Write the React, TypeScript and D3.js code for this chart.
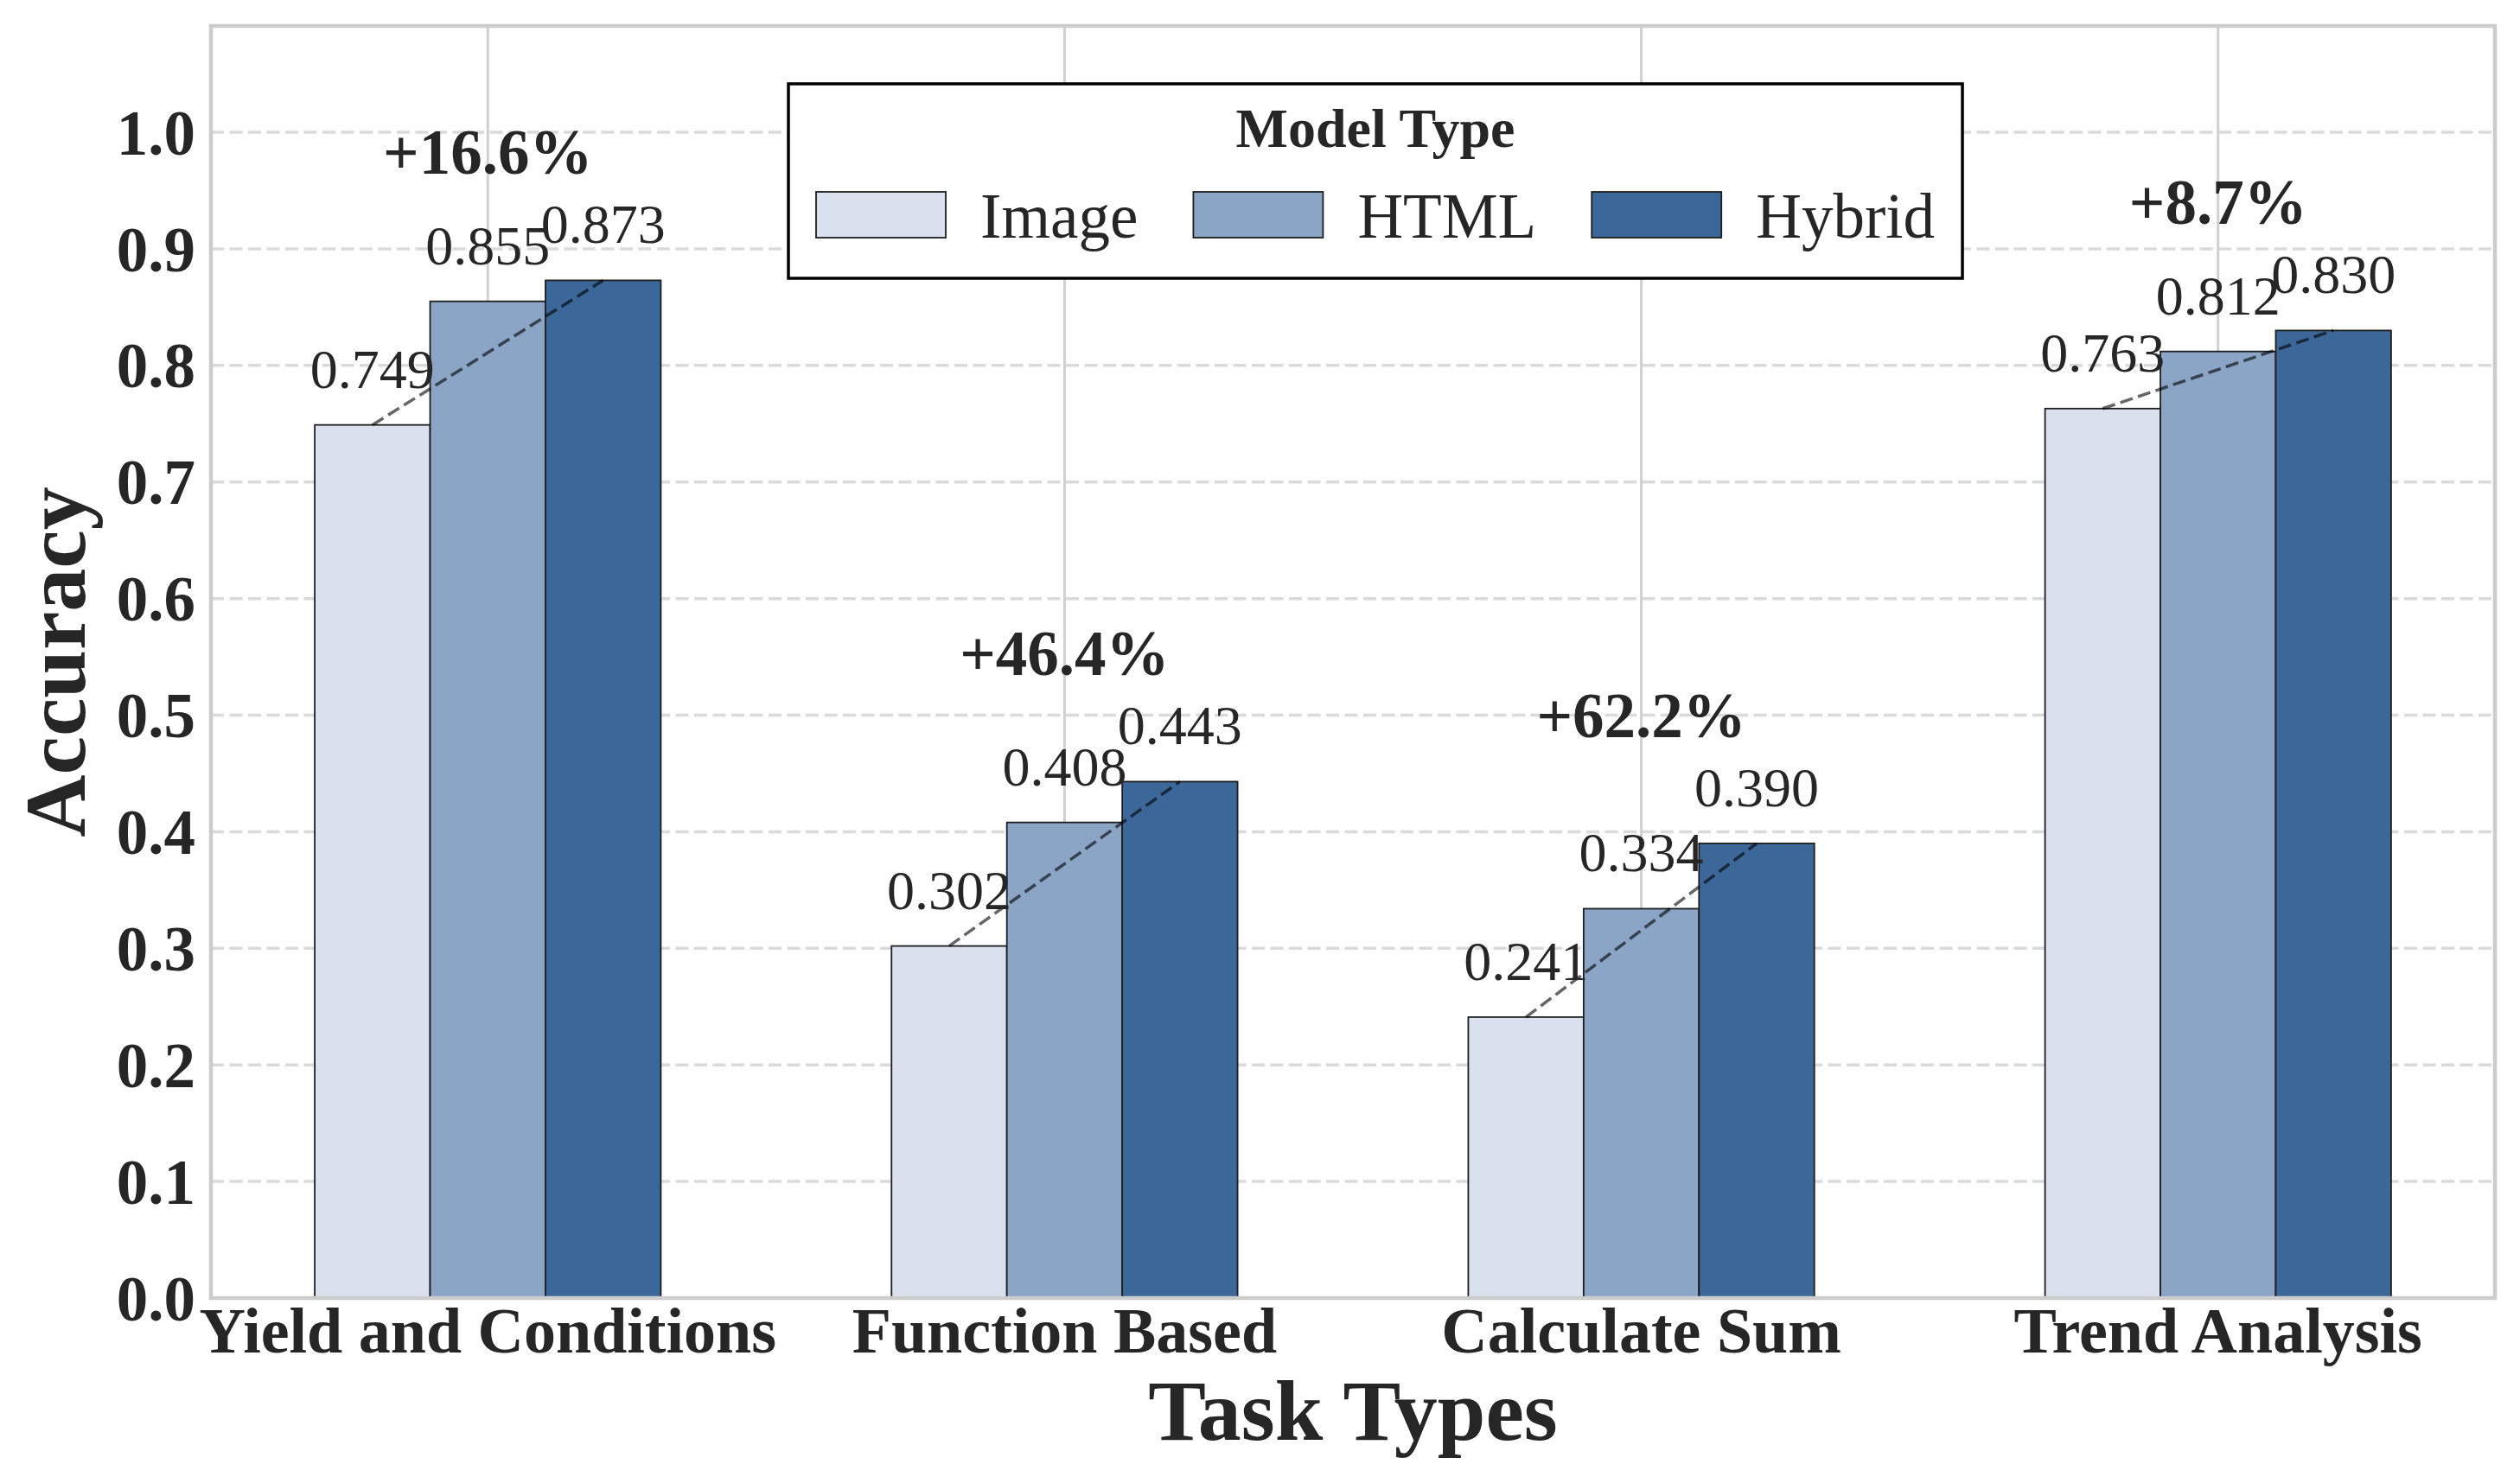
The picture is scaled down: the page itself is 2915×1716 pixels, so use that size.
import React, { useRef, useEffect } from 'react';
import * as d3 from 'd3';

const categories = ["Yield and Conditions", "Function Based", "Calculate Sum", "Trend Analysis"];
const modelTypes = ["Image", "HTML", "Hybrid"];
const imageAcc = [0.749, 0.302, 0.241, 0.763];
const htmlAcc = [0.855, 0.408, 0.334, 0.812];
const hybridAcc = [0.873, 0.443, 0.390, 0.830];
const gains = [16.6, 46.4, 62.2, 8.7];
const yTicks = [0, 0.1, 0.2, 0.3, 0.4, 0.5, 0.6, 0.7, 0.8, 0.9, 1.0];
const barColors = ["#dae1ee", "#8ba5c6", "#3c6799"];

const W = 2915;
const H = 1716;
const FONT = "'Liberation Serif', 'Times New Roman', serif";
const INK = "#262626";

const Chart: React.FC = () => {
    const ref = useRef<SVGSVGElement>(null);

    useEffect(() => {
        if (!ref.current) return;
        const svg = d3.select(ref.current);
        svg.selectAll("*").remove();

        const series = [imageAcc, htmlAcc, hybridAcc];
        const barW = 0.2;
        const left = 244, right = 2886, top = 30, bottom = 1502;

        // matplotlib-like margins around the bars
        const span = (categories.length - 1) + 3 * barW;
        const pad = span * 0.05;
        const x = d3.scaleLinear()
            .domain([-1.5 * barW - pad, categories.length - 1 + 1.5 * barW + pad])
            .range([left, right]);
        const yMax = d3.max(series.flat())! * 1.25;
        const y = d3.scaleLinear().domain([0, yMax]).range([bottom, top]);
        const unit = x(1) - x(0);

        svg.attr("width", W).attr("height", H)
            .style("font-family", FONT);

        svg.append("rect").attr("width", W).attr("height", H).attr("fill", "#fff");

        // grid
        const grid = svg.append("g");
        grid.selectAll("line.h")
            .data(yTicks.filter(t => t > 0))
            .enter().append("line")
            .attr("x1", left).attr("x2", right)
            .attr("y1", d => y(d)).attr("y2", d => y(d))
            .attr("stroke", "#dadada").attr("stroke-width", 3.5)
            .attr("stroke-dasharray", "15 6.5");
        grid.selectAll("line.v")
            .data(categories)
            .enter().append("line")
            .attr("x1", (d, i) => x(i)).attr("x2", (d, i) => x(i))
            .attr("y1", top).attr("y2", bottom)
            .attr("stroke", "#d0d0d0").attr("stroke-width", 3);

        // bars
        series.forEach((vals, j) => {
            svg.append("g").selectAll("rect")
                .data(vals)
                .enter().append("rect")
                .attr("x", (d, i) => x(i + (j - 1) * barW - barW / 2))
                .attr("y", d => y(d))
                .attr("width", barW * unit)
                .attr("height", d => y(0) - y(d))
                .attr("fill", barColors[j])
                .attr("stroke", "#1e1e1e")
                .attr("stroke-width", 1.8);
        });

        // trend lines Image -> Hybrid
        svg.append("g").selectAll("line")
            .data(categories)
            .enter().append("line")
            .attr("x1", (d, i) => x(i - barW)).attr("y1", (d, i) => y(imageAcc[i]))
            .attr("x2", (d, i) => x(i + barW)).attr("y2", (d, i) => y(hybridAcc[i]))
            .attr("stroke", "#000").attr("stroke-opacity", 0.6)
            .attr("stroke-width", 3.5).attr("stroke-dasharray", "15 6.5");

        // value labels
        series.forEach((vals, j) => {
            svg.append("g").selectAll("text")
                .data(vals)
                .enter().append("text")
                .attr("x", (d, i) => x(i + (j - 1) * barW))
                .attr("y", d => y(d) - 43)
                .attr("text-anchor", "middle")
                .attr("font-size", 64)
                .attr("fill", INK)
                .text(d => d.toFixed(3));
        });

        // gain labels
        svg.append("g").selectAll("text")
            .data(gains)
            .enter().append("text")
            .attr("x", (d, i) => x(i))
            .attr("y", (d, i) => y(d3.max(series, s => s[i])!) - 123)
            .attr("text-anchor", "middle")
            .attr("font-size", 73)
            .attr("font-weight", "bold")
            .attr("fill", INK)
            .text(d => `+${d.toFixed(1)}%`);

        // spines
        svg.append("rect")
            .attr("x", left).attr("y", top)
            .attr("width", right - left).attr("height", bottom - top)
            .attr("fill", "none").attr("stroke", "#cccccc").attr("stroke-width", 4.5);

        // y ticks
        svg.append("g").selectAll("text")
            .data(yTicks)
            .enter().append("text")
            .attr("x", left - 18)
            .attr("y", d => y(d))
            .attr("dy", "0.35em")
            .attr("text-anchor", "end")
            .attr("font-size", 73)
            .attr("font-weight", "bold")
            .attr("fill", INK)
            .text(d => d3.format(".1f")(d));

        // x ticks
        svg.append("g").selectAll("text")
            .data(categories)
            .enter().append("text")
            .attr("x", (d, i) => x(i))
            .attr("y", 1565)
            .attr("text-anchor", "middle")
            .attr("font-size", 74)
            .attr("font-weight", "bold")
            .attr("fill", INK)
            .text(d => d);

        // axis titles
        svg.append("text")
            .attr("x", (left + right) / 2).attr("y", 1666)
            .attr("text-anchor", "middle")
            .attr("font-size", 100).attr("font-weight", "bold")
            .attr("fill", INK)
            .text("Task Types");
        svg.append("text")
            .attr("transform", `translate(98, ${(top + bottom) / 2}) rotate(-90)`)
            .attr("text-anchor", "middle")
            .attr("font-size", 100).attr("font-weight", "bold")
            .attr("fill", INK)
            .text("Accuracy");

        // legend
        const lx = 912, ly = 97, lpad = 32;
        const legend = svg.append("g");
        const box = legend.append("rect")
            .attr("x", lx).attr("y", ly).attr("height", 225)
            .attr("fill", "#fff").attr("stroke", "#000").attr("stroke-width", 3.5);
        let cx = lx + lpad;
        modelTypes.forEach((name, j) => {
            legend.append("rect")
                .attr("x", cx).attr("y", 222)
                .attr("width", 150).attr("height", 53)
                .attr("fill", barColors[j])
                .attr("stroke", "#1e1e1e").attr("stroke-width", 1.8);
            const t = legend.append("text")
                .attr("x", cx + 190).attr("y", 275)
                .attr("font-size", 73)
                .attr("fill", INK)
                .text(name);
            const tw = (t.node() as SVGTextElement).getComputedTextLength();
            cx = cx + 190 + tw + (j < modelTypes.length - 1 ? 64 : 0);
        });
        const boxW = cx + lpad - lx;
        box.attr("width", boxW);
        legend.append("text")
            .attr("x", lx + boxW / 2).attr("y", 170)
            .attr("text-anchor", "middle")
            .attr("font-size", 64).attr("font-weight", "bold")
            .attr("fill", INK)
            .text("Model Type");
    }, []);

    return <svg ref={ref} width={W} height={H} style={{ position: 'absolute', left: 0, top: 0 }}></svg>;
};

export default function App() {
    return <Chart />;
}
